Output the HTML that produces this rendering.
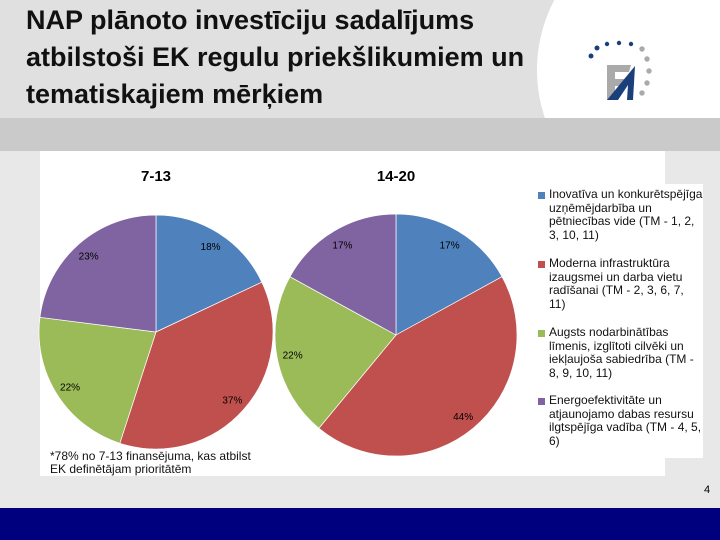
<!DOCTYPE html>
<html><head><meta charset="utf-8"><style>
body{margin:0;width:720px;height:540px;overflow:hidden;background:#e8e8e8;font-family:"Liberation Sans",sans-serif;position:relative}
.abs{position:absolute}
.leg{position:absolute;left:538px;font-size:12px;line-height:13.6px;color:#111;white-space:nowrap}
.leg span{position:absolute;left:0;top:4px;width:7px;height:7px}
.leg div{padding-left:11px}
</style></head><body>
<div class="abs" style="left:0;top:0;width:720px;height:118px;background:#e0e0e0;overflow:hidden">
<div class="abs" style="left:537px;top:-80px;width:300px;height:300px;border-radius:50%;background:#fff"></div>
</div>
<div class="abs" style="left:26px;top:2px;font-size:27px;font-weight:bold;line-height:37px;color:#111;white-space:nowrap">NAP plānoto investīciju sadalījums<br>atbilstoši EK regulu priekšlikumiem un<br>tematiskajiem mērķiem</div>
<svg class="abs" style="left:585px;top:40px" width="80" height="80" viewBox="0 -5 80 80">
<g fill="#1a3f7a"><circle cx="6" cy="11" r="2.5"/><circle cx="12" cy="3" r="2.5"/><circle cx="22" cy="-1" r="2.2"/><circle cx="34" cy="-2" r="2.2"/><circle cx="46" cy="-1" r="2.2"/></g>
<g fill="#aaa"><circle cx="57" cy="4" r="2.7"/><circle cx="62" cy="14" r="2.7"/><circle cx="64" cy="26" r="2.7"/><circle cx="62" cy="38" r="2.7"/><circle cx="57" cy="48" r="2.7"/></g>
<polygon points="22,20 46,20 44,27 30,27 30,34 41,34 39,41 30,41 30,55 22,55" fill="#aaa"/>
<polygon points="22,55 50,21 48,55 42,55 43,40 33,55" fill="#1a3f7a"/>
</svg>
<div class="abs" style="left:0;top:118px;width:720px;height:33px;background:#cacaca"></div>
<div class="abs" style="left:40px;top:151px;width:625px;height:325px;background:#fff"></div>
<div class="abs" style="left:530px;top:184px;width:173px;height:274px;background:#fff"></div>
<div class="abs" style="left:0;top:508px;width:720px;height:32px;background:#00007f"></div>
<div class="abs" style="left:704px;top:484px;font-size:11px">4</div>
<svg id="chart" class="abs" style="left:0;top:0" width="720" height="540"></svg>
<div class="leg" style="top:188px"><span style="background:#4f81bd"></span><div>Inovatīva un konkurētspējīga<br>uzņēmējdarbība un<br>pētniecības vide (TM - 1, 2,<br>3, 10, 11)</div></div>
<div class="leg" style="top:257px"><span style="background:#c0504d"></span><div>Moderna infrastruktūra<br>izaugsmei un darba vietu<br>radīšanai (TM - 2, 3, 6, 7,<br>11)</div></div>
<div class="leg" style="top:326px"><span style="background:#9bbb59"></span><div>Augsts nodarbinātības<br>līmenis, izglītoti cilvēki un<br>iekļaujoša sabiedrība (TM -<br>8, 9, 10, 11)</div></div>
<div class="leg" style="top:394px"><span style="background:#8064a2"></span><div>Energoefektivitāte un<br>atjaunojamo dabas resursu<br>ilgtspējīga vadība (TM - 4, 5,<br>6)</div></div>
<div class="abs" style="left:50px;top:450px;font-size:12px;line-height:13px;color:#111">*78% no 7-13 finansējuma, kas atbilst<br>EK definētājam prioritātēm</div>
<script>
const categories=["Inovatīva","Moderna infrastruktūra","Augsts nodarbinātības","Energoefektivitāte"];
const values713=[18,37,22,23];
const values1420=[17,44,22,17];
const pieTitles=["7-13","14-20"];
const colors=["#4f81bd","#c0504d","#9bbb59","#8064a2"];
const svg=document.getElementById('chart');
const NS="http://www.w3.org/2000/svg";
function drawPie(vals,cx,cy,r,title,idx){
  const tot=vals.reduce((a,b)=>a+b,0);
  let a0=0;
  const t=document.createElementNS(NS,'text');
  
  
  t.setAttribute('x',cx);t.setAttribute('y',181);t.setAttribute('text-anchor','middle');
  t.setAttribute('font-size','15');t.setAttribute('font-weight','bold');t.setAttribute('font-family','Liberation Sans, sans-serif');
  t.textContent=title;svg.appendChild(t);
  vals.forEach((v,i)=>{
    const a1=a0+v/tot*2*Math.PI;
    const x0=cx+r*Math.sin(a0),y0=cy-r*Math.cos(a0),x1=cx+r*Math.sin(a1),y1=cy-r*Math.cos(a1);
    const p=document.createElementNS(NS,'path');
    
    
    p.setAttribute('d',`M${cx},${cy}L${x0},${y0}A${r},${r} 0 ${a1-a0>Math.PI?1:0} 1 ${x1},${y1}Z`);
    p.setAttribute('fill',colors[i]);p.setAttribute('stroke','#fff');p.setAttribute('stroke-width','0.7');
    svg.appendChild(p);
    const am=(a0+a1)/2;
    const l=document.createElementNS(NS,'text');
    
    
    l.setAttribute('x',cx+0.87*r*Math.sin(am));l.setAttribute('y',cy-0.87*r*Math.cos(am)+4);
    l.setAttribute('text-anchor','middle');l.setAttribute('font-size','10');l.setAttribute('font-family','Liberation Sans, sans-serif');
    l.textContent=v+'%';svg.appendChild(l);
    a0=a1;
  });
}
drawPie(values713,156,332,117,pieTitles[0],'7-13');
drawPie(values1420,396,335,121,pieTitles[1],'14-20');
</script>
</body></html>
